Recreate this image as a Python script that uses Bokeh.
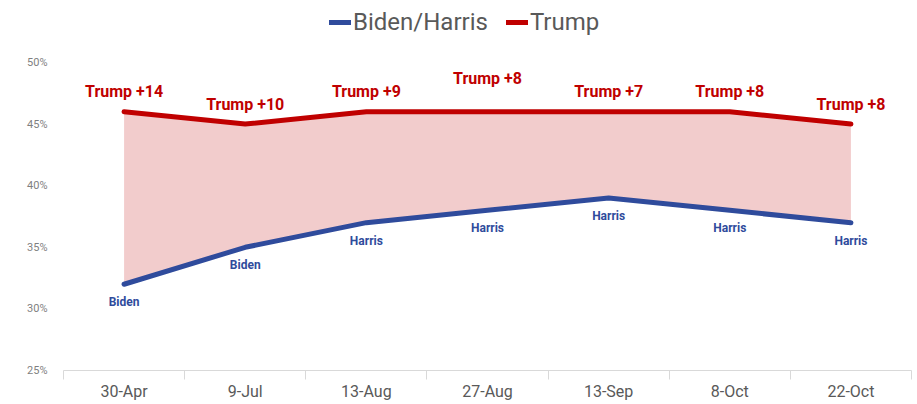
from bokeh.plotting import figure
from bokeh.models import ColumnDataSource, FixedTicker, Range1d, Legend, LegendItem
from bokeh.core.properties import value
from bokeh.embed import file_html
from bokeh.resources import INLINE

# ---- data ----
dates = ["30-Apr", "9-Jul", "13-Aug", "27-Aug", "13-Sep", "8-Oct", "22-Oct"]
trump = [46, 45, 46, 46, 46, 46, 45]
dem = [32, 35, 37, 38, 39, 38, 37]
trump_labels = ["Trump +14", "Trump +10", "Trump +9", "Trump +8", "Trump +7", "Trump +8", "Trump +8"]
dem_labels = ["Biden", "Biden", "Harris", "Harris", "Harris", "Harris", "Harris"]
y_ticks = [25, 30, 35, 40, 45, 50]

# ---- style ----
RED = "#c00000"
BLUE = "#2f4b9c"
GREY = "#595959"
FONT = "Roboto"
trump_label_dy = [-20, -20, -20, -33, -20, -20, -20]

xs = list(range(len(dates)))
src = ColumnDataSource(dict(x=xs, trump=trump, dem=dem, tl=trump_labels, dl=dem_labels, tdy=trump_label_dy))

p = figure(width=917, height=404, output_backend="svg", toolbar_location=None,
           x_range=Range1d(-0.5, len(dates) - 0.5), y_range=Range1d(25, 25 + 370 / 12.32),
           min_border_left=63, min_border_right=6, min_border_top=0, min_border_bottom=34)
p.outline_line_color = None
p.background_fill_color = "white"
p.border_fill_color = "white"
p.xgrid.visible = False
p.ygrid.visible = False

p.varea(x="x", y1="dem", y2="trump", source=src, fill_color=RED, fill_alpha=0.2)
r_dem = p.line(x="x", y="dem", source=src, line_color=BLUE, line_width=5, line_cap="round", line_join="round")
r_tr = p.line(x="x", y="trump", source=src, line_color=RED, line_width=5, line_cap="round", line_join="round")

p.text(x="x", y="trump", text="tl", source=src, y_offset="tdy", text_align="center", text_baseline="middle",
       text_font=value(FONT), text_font_style="bold", text_font_size="16px", text_color=RED)
p.text(x="x", y="dem", text="dl", source=src, y_offset=18, text_align="center", text_baseline="middle",
       text_font=value(FONT), text_font_style="bold", text_font_size="12px", text_color=BLUE)

# x axis
xa = p.xaxis[0]
xa.ticker = FixedTicker(ticks=xs, minor_ticks=[i - 0.5 for i in range(len(dates) + 1)])
xa.major_label_overrides = {i: d for i, d in enumerate(dates)}
xa.major_tick_line_color = None
xa.major_tick_out = 0
xa.major_tick_in = 0
xa.minor_tick_line_color = "#d9d9d9"
xa.minor_tick_out = 9
xa.minor_tick_in = 0
xa.axis_line_color = "#d9d9d9"
xa.major_label_text_font = FONT
xa.major_label_text_font_size = "16px"
xa.major_label_text_color = GREY
xa.major_label_standoff = 2

# y axis
ya = p.yaxis[0]
ya.ticker = FixedTicker(ticks=y_ticks)
ya.major_label_overrides = {t: f"{t}%" for t in y_ticks}
ya.axis_line_color = None
ya.major_tick_line_color = None
ya.minor_tick_line_color = None
ya.major_label_text_font = FONT
ya.major_label_text_font_size = "11px"
ya.major_label_text_color = "#7f7f7f"
ya.major_label_standoff = 10

legend = Legend(items=[LegendItem(label="Biden/Harris", renderers=[r_dem]),
                       LegendItem(label="Trump", renderers=[r_tr])],
                orientation="horizontal", location=(266, 334),
                label_text_font=FONT, label_text_font_size="24px", label_text_color=GREY,
                glyph_width=22, label_standoff=2, spacing=18, border_line_color=None,
                background_fill_alpha=0, margin=0, padding=4)
p.add_layout(legend, "center")

open("out.html", "w").write(file_html(p, INLINE))
